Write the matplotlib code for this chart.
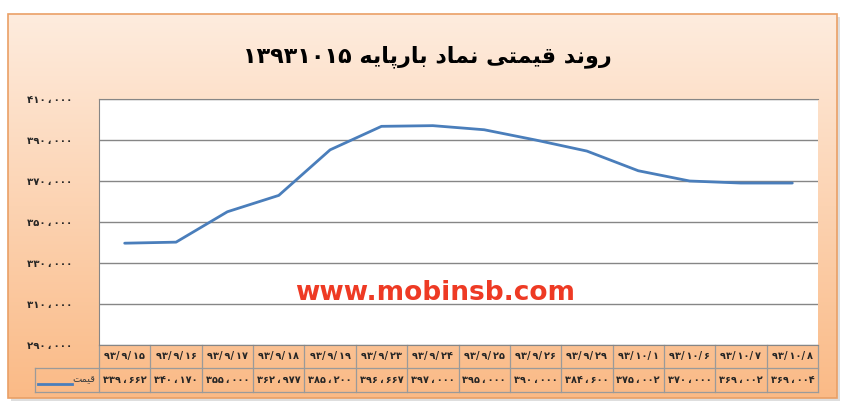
import numpy as np
import matplotlib
matplotlib.use('Agg')
import matplotlib.pyplot as plt
from matplotlib.patches import Rectangle
from matplotlib.lines import Line2D

plt.rcParams['font.family'] = ['DejaVu Sans']

# ---------------- data ----------------
title_text = 'روند قیمتی نماد بارپایه 13931015'
series_name = 'قیمت'
dates = ['93/9/15', '93/9/16', '93/9/17', '93/9/18', '93/9/19', '93/9/23', '93/9/24',
         '93/9/25', '93/9/26', '93/9/29', '93/10/1', '93/10/6', '93/10/7', '93/10/8']
prices = [339662, 340170, 355000, 362977, 385200, 396667, 397000,
          395000, 390000, 384600, 375002, 370000, 369002, 369004]
y_ticks = [290000, 310000, 330000, 350000, 370000, 390000, 410000]
watermark = 'www.mobinsb.com'

# ---------------- helpers ----------------
FA_DIGITS = str.maketrans('0123456789', '۰۱۲۳۴۵۶۷۸۹')


def fa_num(v):
    return f'{v:,}'.replace(',', '\u2009،\u2009').translate(FA_DIGITS)


FORMS = {
    'ا': ('\uFE8D', '\uFE8E', None, None),
    'ب': ('\uFE8F', '\uFE90', '\uFE91', '\uFE92'),
    'پ': ('\uFB56', '\uFB57', '\uFB58', '\uFB59'),
    'ت': ('\uFE95', '\uFE96', '\uFE97', '\uFE98'),
    'د': ('\uFEA9', '\uFEAA', None, None),
    'ر': ('\uFEAD', '\uFEAE', None, None),
    'ق': ('\uFED5', '\uFED6', '\uFED7', '\uFED8'),
    'م': ('\uFEE1', '\uFEE2', '\uFEE3', '\uFEE4'),
    'ن': ('\uFEE5', '\uFEE6', '\uFEE7', '\uFEE8'),
    'ه': ('\uFEE9', '\uFEEA', '\uFEEB', '\uFEEC'),
    'و': ('\uFEED', '\uFEEE', None, None),
    'ی': ('\uFBFC', '\uFBFD', '\uFBFE', '\uFBFF'),
}


def shape(text):
    text = text.translate(FA_DIGITS)
    out = []
    n = len(text)
    for i, c in enumerate(text):
        if c not in FORMS:
            out.append(c)
            continue
        prev = text[i - 1] if i > 0 else ''
        nxt = text[i + 1] if i < n - 1 else ''
        jp = prev in FORMS and FORMS[prev][2] is not None
        jn = FORMS[c][2] is not None and nxt in FORMS
        iso, fin, ini, med = FORMS[c]
        if jp and jn:
            out.append(med)
        elif jp:
            out.append(fin)
        elif jn:
            out.append(ini)
        else:
            out.append(iso)
    s = ''.join(out)
    # visual order: reverse, keep digit runs LTR
    runs = []
    cur = ''
    cur_d = None
    for ch in s:
        d = ch in '۰۱۲۳۴۵۶۷۸۹'
        if cur and d != cur_d:
            runs.append((cur, cur_d))
            cur = ''
        cur += ch
        cur_d = d
    if cur:
        runs.append((cur, cur_d))
    vis = []
    for r, d in reversed(runs):
        vis.append(r if d else r[::-1])
    return ''.join(vis)


# ---------------- figure ----------------
W, H = 843, 409
fig = plt.figure(figsize=(W / 100, H / 100), dpi=100)

bg = fig.add_axes([0, 0, 1, 1])
bg.set_xlim(0, W)
bg.set_ylim(H, 0)
bg.axis('off')

shadow = Rectangle((11, 17), 829, 384, facecolor='#c8c8c8', edgecolor='none', alpha=0.6)
bg.add_patch(shadow)
frame = Rectangle((8, 14), 829, 384, facecolor='none', edgecolor='#eaa066', lw=1.2, zorder=3)
bg.add_patch(frame)
top_c = np.array([254, 236, 222]) / 255
bot_c = np.array([250, 186, 134]) / 255
t = np.linspace(0, 1, 256)[:, None]
grad = (top_c[None, :] * (1 - t) + bot_c[None, :] * t)[:, None, :]
im = bg.imshow(grad, extent=(8, 837, 398, 14), aspect='auto', zorder=2)
clip = Rectangle((8, 14), 829, 384, transform=bg.transData)
im.set_clip_path(clip)

# title
fig.text(427 / W, 1 - 57 / H, shape(title_text), fontsize=16, fontweight='bold',
         ha='center', va='center', color='black')

# main axes
ax_l, ax_r, ax_t, ax_b = 99, 818, 99, 345
ax = fig.add_axes([ax_l / W, 1 - ax_b / H, (ax_r - ax_l) / W, (ax_b - ax_t) / H])
ax.set_facecolor('white')
n = len(dates)
xs = np.arange(n)
line_color = '#4a7ebb'
ax.plot(xs, prices, color=line_color, lw=2.0, solid_capstyle='round', zorder=3)
ax.set_xlim(-0.5, n - 0.5)
ax.set_ylim(min(y_ticks), max(y_ticks))
ax.set_yticks(y_ticks)
ax.set_yticklabels([fa_num(v) for v in y_ticks], fontsize=7.3, fontweight='bold', color='#262626')
ax.tick_params(axis='y', length=0, pad=19)
ax.set_xticks([])
ax.grid(axis='y', color='#868686', lw=1)
ax.set_axisbelow(True)
for side in ['left', 'top', 'bottom']:
    ax.spines[side].set_color('#868686')
ax.spines['right'].set_visible(False)

ax.text(0.468, 0.21, watermark, transform=ax.transAxes, fontsize=19, fontweight='bold',
        color='#ee3a24', ha='center', va='center')

# data table below the axes
axh = ax_b - ax_t
r1 = 23 / axh
r2 = 24 / axh
tcol = '#9a9a9a'
xt = ax.get_xaxis_transform()
for i in range(n + 1):
    ax.add_line(Line2D([i - 0.5, i - 0.5], [0, -(r1 + r2)], transform=xt, color=tcol,
                       lw=0.9, clip_on=False))
leg_w = (ax_l - 35) / (ax_r - ax_l)
ax.add_line(Line2D([-leg_w, 1], [-r1, -r1], transform=ax.transAxes, color=tcol, lw=0.9, clip_on=False))
ax.add_line(Line2D([-leg_w, 1], [-(r1 + r2), -(r1 + r2)], transform=ax.transAxes, color=tcol,
                   lw=0.9, clip_on=False))
ax.add_line(Line2D([-leg_w, -leg_w], [-r1, -(r1 + r2)], transform=ax.transAxes, color=tcol,
                   lw=0.9, clip_on=False))
for i, (d, p) in enumerate(zip(dates, prices)):
    ax.text(i, -r1 / 2, d.translate(FA_DIGITS).replace('/', '/\u2009'), transform=xt,
            ha='center', va='center', fontsize=7, fontweight='bold', color='#262626',
            clip_on=False)
    ax.text(i, -(r1 + r2 / 2), fa_num(p), transform=xt, ha='center', va='center',
            fontsize=7, fontweight='bold', color='#262626', clip_on=False)

# legend in table
ly = -(r1 + r2 / 2)
lx0 = -(ax_l - 38) / (ax_r - ax_l)
lx1 = -(ax_l - 72) / (ax_r - ax_l)
ax.add_line(Line2D([lx0, lx1], [ly - 4 / axh, ly - 4 / axh], transform=ax.transAxes,
                   color=line_color, lw=2.0, clip_on=False))
ax.text(lx1 + 0.001, ly + 1 / axh, shape(series_name), transform=ax.transAxes, ha='left',
        va='center', fontsize=7, color='#404040', clip_on=False)

fig.savefig('out.png', dpi=100)
